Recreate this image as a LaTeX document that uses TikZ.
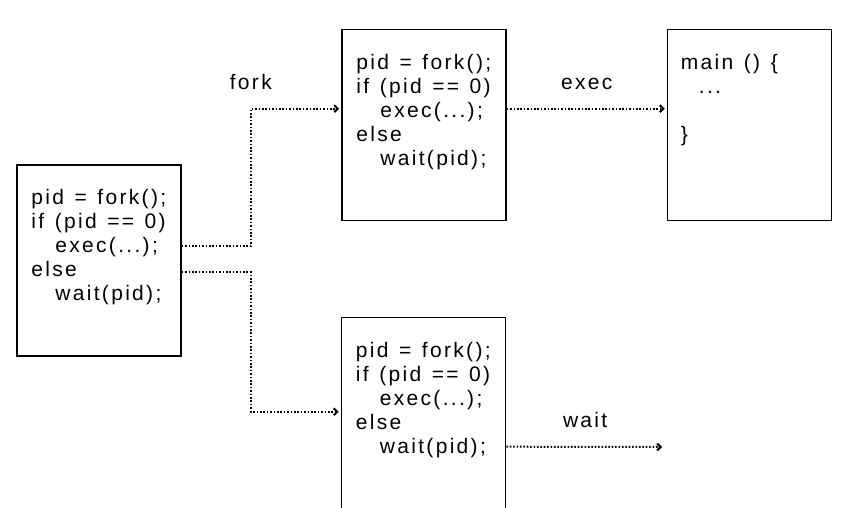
\documentclass[tikz,border=0pt]{standalone}
\usepackage{fontspec}
\usetikzlibrary{arrows.meta,positioning}
\newfontfamily\codefont[LetterSpace=11,WordSpace=1.3]{Liberation Sans}
\tikzset{
    codebox/.style={draw, line width=1.6pt, minimum width=164pt, minimum height=191pt, inner sep=0pt},
    codetext/.style={anchor=north west, inner sep=0pt, align=left, font=\codefont\fontsize{21}{24}\selectfont},
    lbl/.style={inner sep=0pt, font=\codefont\fontsize{21}{24}\selectfont},
    flow/.style={line width=2pt, dash pattern=on 1.6pt off 1.8pt, -{Straight Barb[length=3.5pt,width=7pt,line width=2pt]}, shorten >=2pt}
}
\newcommand{\ind}{\hspace*{24pt}}
\begin{document}
\begin{tikzpicture}[x=1pt,y=-1pt]
        \useasboundingbox (0,0) rectangle (857,507);
        \clip (0,0) rectangle (857,507);
        % boxes
        \node[codebox] (lbox) at (99,260.5) {};
        \node[codebox] (fbox) at (424,125) {};
        \node[codebox] (ebox) at (749.5,125) {};
        \node[codebox] (wbox) at (423.5,413) {};
        % code
        \node[codetext] (ltext) at ([shift={(15pt,-25pt)}]lbox.north west)
            {pid = fork();\\if (pid == 0)\\\ind exec(...);\\else\\\ind wait(pid);};
        \node[codetext] (ftext) at ([shift={(15pt,-25pt)}]fbox.north west)
            {pid = fork();\\if (pid == 0)\\\ind exec(...);\\else\\\ind wait(pid);};
        \node[codetext] (wtext) at ([shift={(15pt,-25pt)}]wbox.north west)
            {pid = fork();\\if (pid == 0)\\\ind exec(...);\\else\\\ind wait(pid);};
        \node[codetext] (etext) at ([shift={(14pt,-25pt)}]ebox.north west)
            {main () \{\\\hspace*{18pt}...\\\\\}};
        % connectors
        \coordinate (wend) at (664,447);
        \draw[flow] ([yshift=-82pt]lbox.north east) -- ++(69,0) |- node[lbl, above=18pt] {fork} ([yshift=-80pt]fbox.north west);
        \draw[flow] ([yshift=-108pt]lbox.north east) -- ++(69,0) |- ([yshift=-95pt]wbox.north west);
        \draw[flow] ([yshift=-80pt]fbox.north east) -- node[lbl, above=18pt] {exec} ([yshift=-80pt]ebox.north west);
        \draw[flow] ([yshift=-130pt]wbox.north east) -- node[lbl, above=18pt] {wait} (wend);
    \end{tikzpicture}
\end{document}
